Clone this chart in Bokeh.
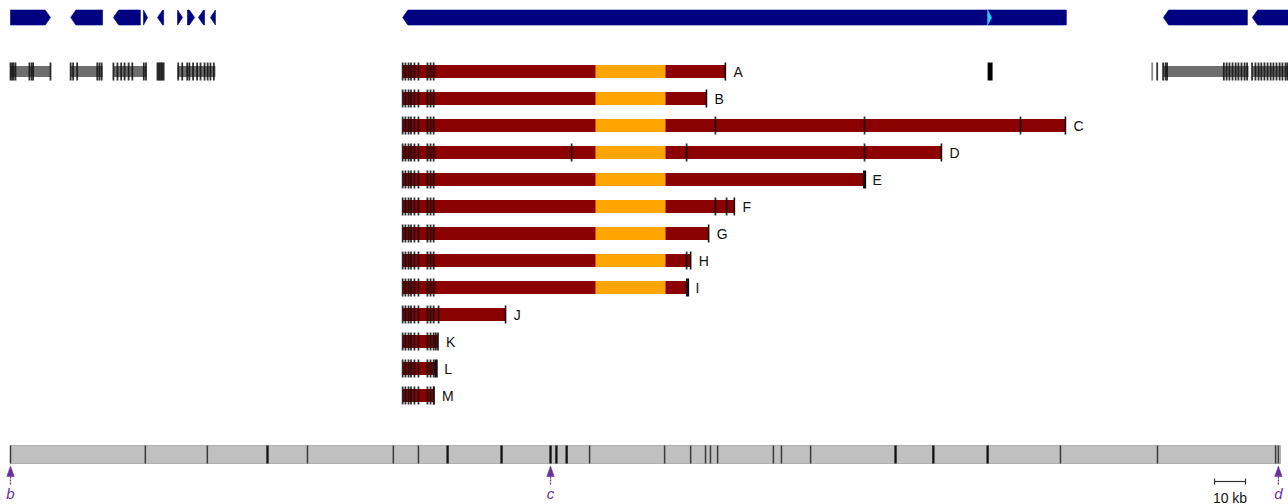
from bokeh.plotting import figure
from bokeh.models import Range1d
from bokeh.embed import file_html
from bokeh.resources import INLINE
from bokeh.core.properties import value

# ---------------------------------------------------------------
# Data (genomic positions in kb from the left end of the region)
# ---------------------------------------------------------------

# Annotated genes (top track): start, end, strand
gene_start = [0.0, 19.4, 33.2, 42.9, 47.4, 53.9, 57.1, 60.6, 64.5, 126.5, 371.9, 400.6]
gene_end = [12.9, 29.7, 41.9, 44.2, 49.4, 55.5, 59.4, 62.6, 66.1, 340.6, 399.0, 413.5]
gene_strand = ["+", "-", "-", "+", "-", "+", "+", "-", "-", "-", "-", "-"]

# Small feature inside the large gene
inner_start = [315.2]
inner_end = [316.5]
inner_strand = ["+"]

# Reference gene models (second track): intron lines and exon positions
model_spans = [(0.0, 12.9), (19.4, 29.7), (33.2, 43.9), (53.9, 66.1),
               (371.9, 399.4), (400.6, 412.3)]
model_exons = [0.0, 0.5, 1.0, 1.6, 6.1, 6.8, 7.3, 12.9,
               19.4, 20.2, 21.5, 28.0, 28.7, 29.4,
               33.2, 34.5, 35.7, 36.8, 38.1, 39.3, 43.0, 43.7,
               47.4, 47.8, 48.2, 48.6, 49.0, 49.4,
               54.1, 55.4, 57.0, 57.7, 58.9, 60.2, 61.3, 62.6, 63.6, 64.5, 65.6,
               369.9, 371.8, 372.6, 373.1,
               391.4, 392.3, 393.2, 394.2, 395.2, 396.1, 397.1, 398.1, 398.9,
               400.5, 401.6, 402.6, 403.5, 404.5, 405.5, 406.5, 407.4, 408.4,
               409.4, 410.3, 411.3, 411.9]
model_faint_exons = [368.3]
model_block = (315.2, 316.8)

# Transcripts
tx_names = ["A", "B", "C", "D", "E", "F", "G", "H", "I", "J", "K", "L", "M"]
tx_start = 126.5
tx_end = [230.6, 224.5, 340.3, 300.3, 275.5, 233.5, 225.2, 219.4, 218.4,
          159.7, 137.9, 137.3, 136.6]
shared_exons = [126.5, 127.4, 128.4, 129.2, 130.3, 131.6, 134.5, 135.5, 136.5]
extra_exons = {"C": [227.4, 275.5, 325.8], "D": [181.0, 218.1, 275.5],
               "F": [227.4, 231.0], "H": [218.1], "J": [138.1], "K": [137.2]}
heavy_end = ["E", "I", "L"]
orf_start, orf_end = 188.7, 211.3

# Ruler markers along the region
ruler_start, ruler_end = 0.0, 409.7
ruler_marks = [0.0, 43.5, 63.5, 82.9, 95.8, 123.5, 131.6, 141.0, 158.4, 174.2,
               176.1, 179.4, 186.8, 211.0, 219.4, 224.2, 225.8, 228.1, 246.1,
               248.7, 258.1, 285.5, 297.7, 315.2, 338.7, 370.0, 408.1, 409.0]
ruler_heavy = [82.9, 141.0, 158.4, 174.2, 176.1, 179.4, 285.5, 297.7, 315.2]
point_pos = [0.0, 174.2, 409.0]
point_lbl = ["b", "c", "d"]
scale_start, scale_len = 388.4, 10.0

# ---------------------------------------------------------------
# Layout constants (vertical positions in pixels from the top)
# ---------------------------------------------------------------
GENE_Y, GENE_H = 17.0, 15.0
MODEL_Y = 71.0
ROW0, ROW_STEP = 71.0, 27.0
BAR_H, TICK_H = 13.0, 18.0
RULER_Y, RULER_H = 454.0, 18.0
HEAD = 1.7  # arrowhead length, kb
TICK_W = 1.8

NAVY = "#000080"
DARKRED = "#8b0000"
ORANGE = "#ffa500"
PURPLE = "#6b2fa0"

p = figure(width=1288, height=504, output_backend="svg", toolbar_location=None,
           x_range=Range1d(-3.226, 412.26), y_range=Range1d(504, 0),
           min_border=0, min_border_left=0, min_border_right=0,
           min_border_top=0, min_border_bottom=0)
p.xaxis.visible = False
p.yaxis.visible = False
p.grid.visible = False
p.outline_line_color = None
p.background_fill_color = "white"
p.border_fill_color = "white"


def arrow_shape(s, e, strand, yc, h):
    top, bot = yc - h / 2, yc + h / 2
    head = min(HEAD, e - s)
    if strand == "+":
        xs = [s, e - head, e, e - head, s]
    else:
        xs = [e, s + head, s, s + head, e]
    ys = [top, top, yc, bot, bot]
    return xs, ys


# --- gene track ---
gx, gy = [], []
for s, e, st in zip(gene_start, gene_end, gene_strand):
    xs, ys = arrow_shape(s, e, st, GENE_Y, GENE_H)
    gx.append(xs)
    gy.append(ys)
p.patches(gx, gy, fill_color=NAVY, line_color=NAVY, line_width=0.6)

ix, iy = [], []
for s, e, st in zip(inner_start, inner_end, inner_strand):
    xs, ys = arrow_shape(s, e, st, GENE_Y, GENE_H)
    ix.append(xs)
    iy.append(ys)
p.patches(ix, iy, fill_color="#22ccff", line_color="#22ccff", line_width=0.6)

# --- reference gene models ---
p.quad(left=[a for a, b in model_spans], right=[b for a, b in model_spans],
       top=MODEL_Y - 5.5, bottom=MODEL_Y + 5.5,
       fill_color="#6e6e6e", line_color=None)
p.segment(x0=model_exons, y0=MODEL_Y - TICK_H / 2, x1=model_exons, y1=MODEL_Y + TICK_H / 2,
          line_color="#111111", line_width=TICK_W, line_alpha=0.85)
p.segment(x0=model_faint_exons, y0=MODEL_Y - TICK_H / 2, x1=model_faint_exons,
          y1=MODEL_Y + TICK_H / 2, line_color="#888888", line_width=TICK_W)
p.quad(left=[model_block[0]], right=[model_block[1]],
       top=MODEL_Y - TICK_H / 2, bottom=MODEL_Y + TICK_H / 2,
       fill_color="black", line_color=None)

# --- transcripts ---
rows = [ROW0 + i * ROW_STEP for i in range(len(tx_names))]
p.quad(left=[tx_start] * len(rows), right=tx_end,
       top=[y - BAR_H / 2 for y in rows], bottom=[y + BAR_H / 2 for y in rows],
       fill_color=DARKRED, line_color=None)

orf_rows = [y for y, e in zip(rows, tx_end) if e > orf_end]
p.quad(left=[orf_start] * len(orf_rows), right=[orf_end] * len(orf_rows),
       top=[y - BAR_H / 2 for y in orf_rows], bottom=[y + BAR_H / 2 for y in orf_rows],
       fill_color=ORANGE, line_color=None)

tick_x, tick_y = [], []
end_x, end_y, end_w = [], [], []
for name, y, e in zip(tx_names, rows, tx_end):
    for x in shared_exons + extra_exons.get(name, []):
        if x <= e + 0.05:
            tick_x.append(x)
            tick_y.append(y)
    end_x.append(e)
    end_y.append(y)
    end_w.append(3.2 if name in heavy_end else 1.6)

p.segment(x0=tick_x, y0=[y - TICK_H / 2 for y in tick_y], x1=tick_x,
          y1=[y + TICK_H / 2 for y in tick_y],
          line_color="#111111", line_width=TICK_W, line_alpha=0.85)
p.segment(x0=end_x, y0=[y - TICK_H / 2 for y in end_y], x1=end_x,
          y1=[y + TICK_H / 2 for y in end_y],
          line_color="#111111", line_width=end_w)

p.text(x=[e + 2.6 for e in tx_end], y=rows, text=tx_names,
       text_font=value("Liberation Sans"), text_font_size="14px",
       text_color="#111111", text_baseline="middle", text_align="left")

# --- ruler ---
p.quad(left=[ruler_start], right=[ruler_end],
       top=RULER_Y - RULER_H / 2, bottom=RULER_Y + RULER_H / 2,
       fill_color="#c0c0c0", line_color="#b0b0b0", line_width=1)
light = [m for m in ruler_marks if m not in ruler_heavy]
p.segment(x0=light, y0=RULER_Y - RULER_H / 2, x1=light, y1=RULER_Y + RULER_H / 2,
          line_color="#3a3a3a", line_width=1.5)
p.segment(x0=ruler_heavy, y0=RULER_Y - RULER_H / 2, x1=ruler_heavy,
          y1=RULER_Y + RULER_H / 2, line_color="#111111", line_width=2.3)

# --- position markers ---
p.patches([[m - 1.2, m, m + 1.2] for m in point_pos],
          [[476.0, 465.5, 476.0] for m in point_pos],
          fill_color=PURPLE, line_color=PURPLE, line_width=0.5)
p.segment(x0=point_pos, y0=476.0, x1=point_pos, y1=485.0,
          line_color=PURPLE, line_width=1.3, line_dash="2 1")
p.text(x=point_pos, y=[493.0] * len(point_pos), text=point_lbl,
       text_font=value("Liberation Sans"), text_font_size="15px",
       text_font_style="italic", text_color=PURPLE,
       text_baseline="middle", text_align="center")

# --- scale bar ---
scale_end = scale_start + scale_len
p.segment(x0=[scale_start], y0=[481.0], x1=[scale_end], y1=[481.0],
          line_color="#333333", line_width=1.2)
p.segment(x0=[scale_start, scale_end], y0=[478.0, 478.0], x1=[scale_start, scale_end],
          y1=[484.0, 484.0], line_color="#333333", line_width=1.2)
p.text(x=[(scale_start + scale_end) / 2], y=[497.0], text=[f"{scale_len:g} kb"],
       text_font=value("Liberation Sans"), text_font_size="14px",
       text_color="#111111", text_baseline="middle", text_align="center")

open("out.html", "w").write(file_html(p, INLINE))
